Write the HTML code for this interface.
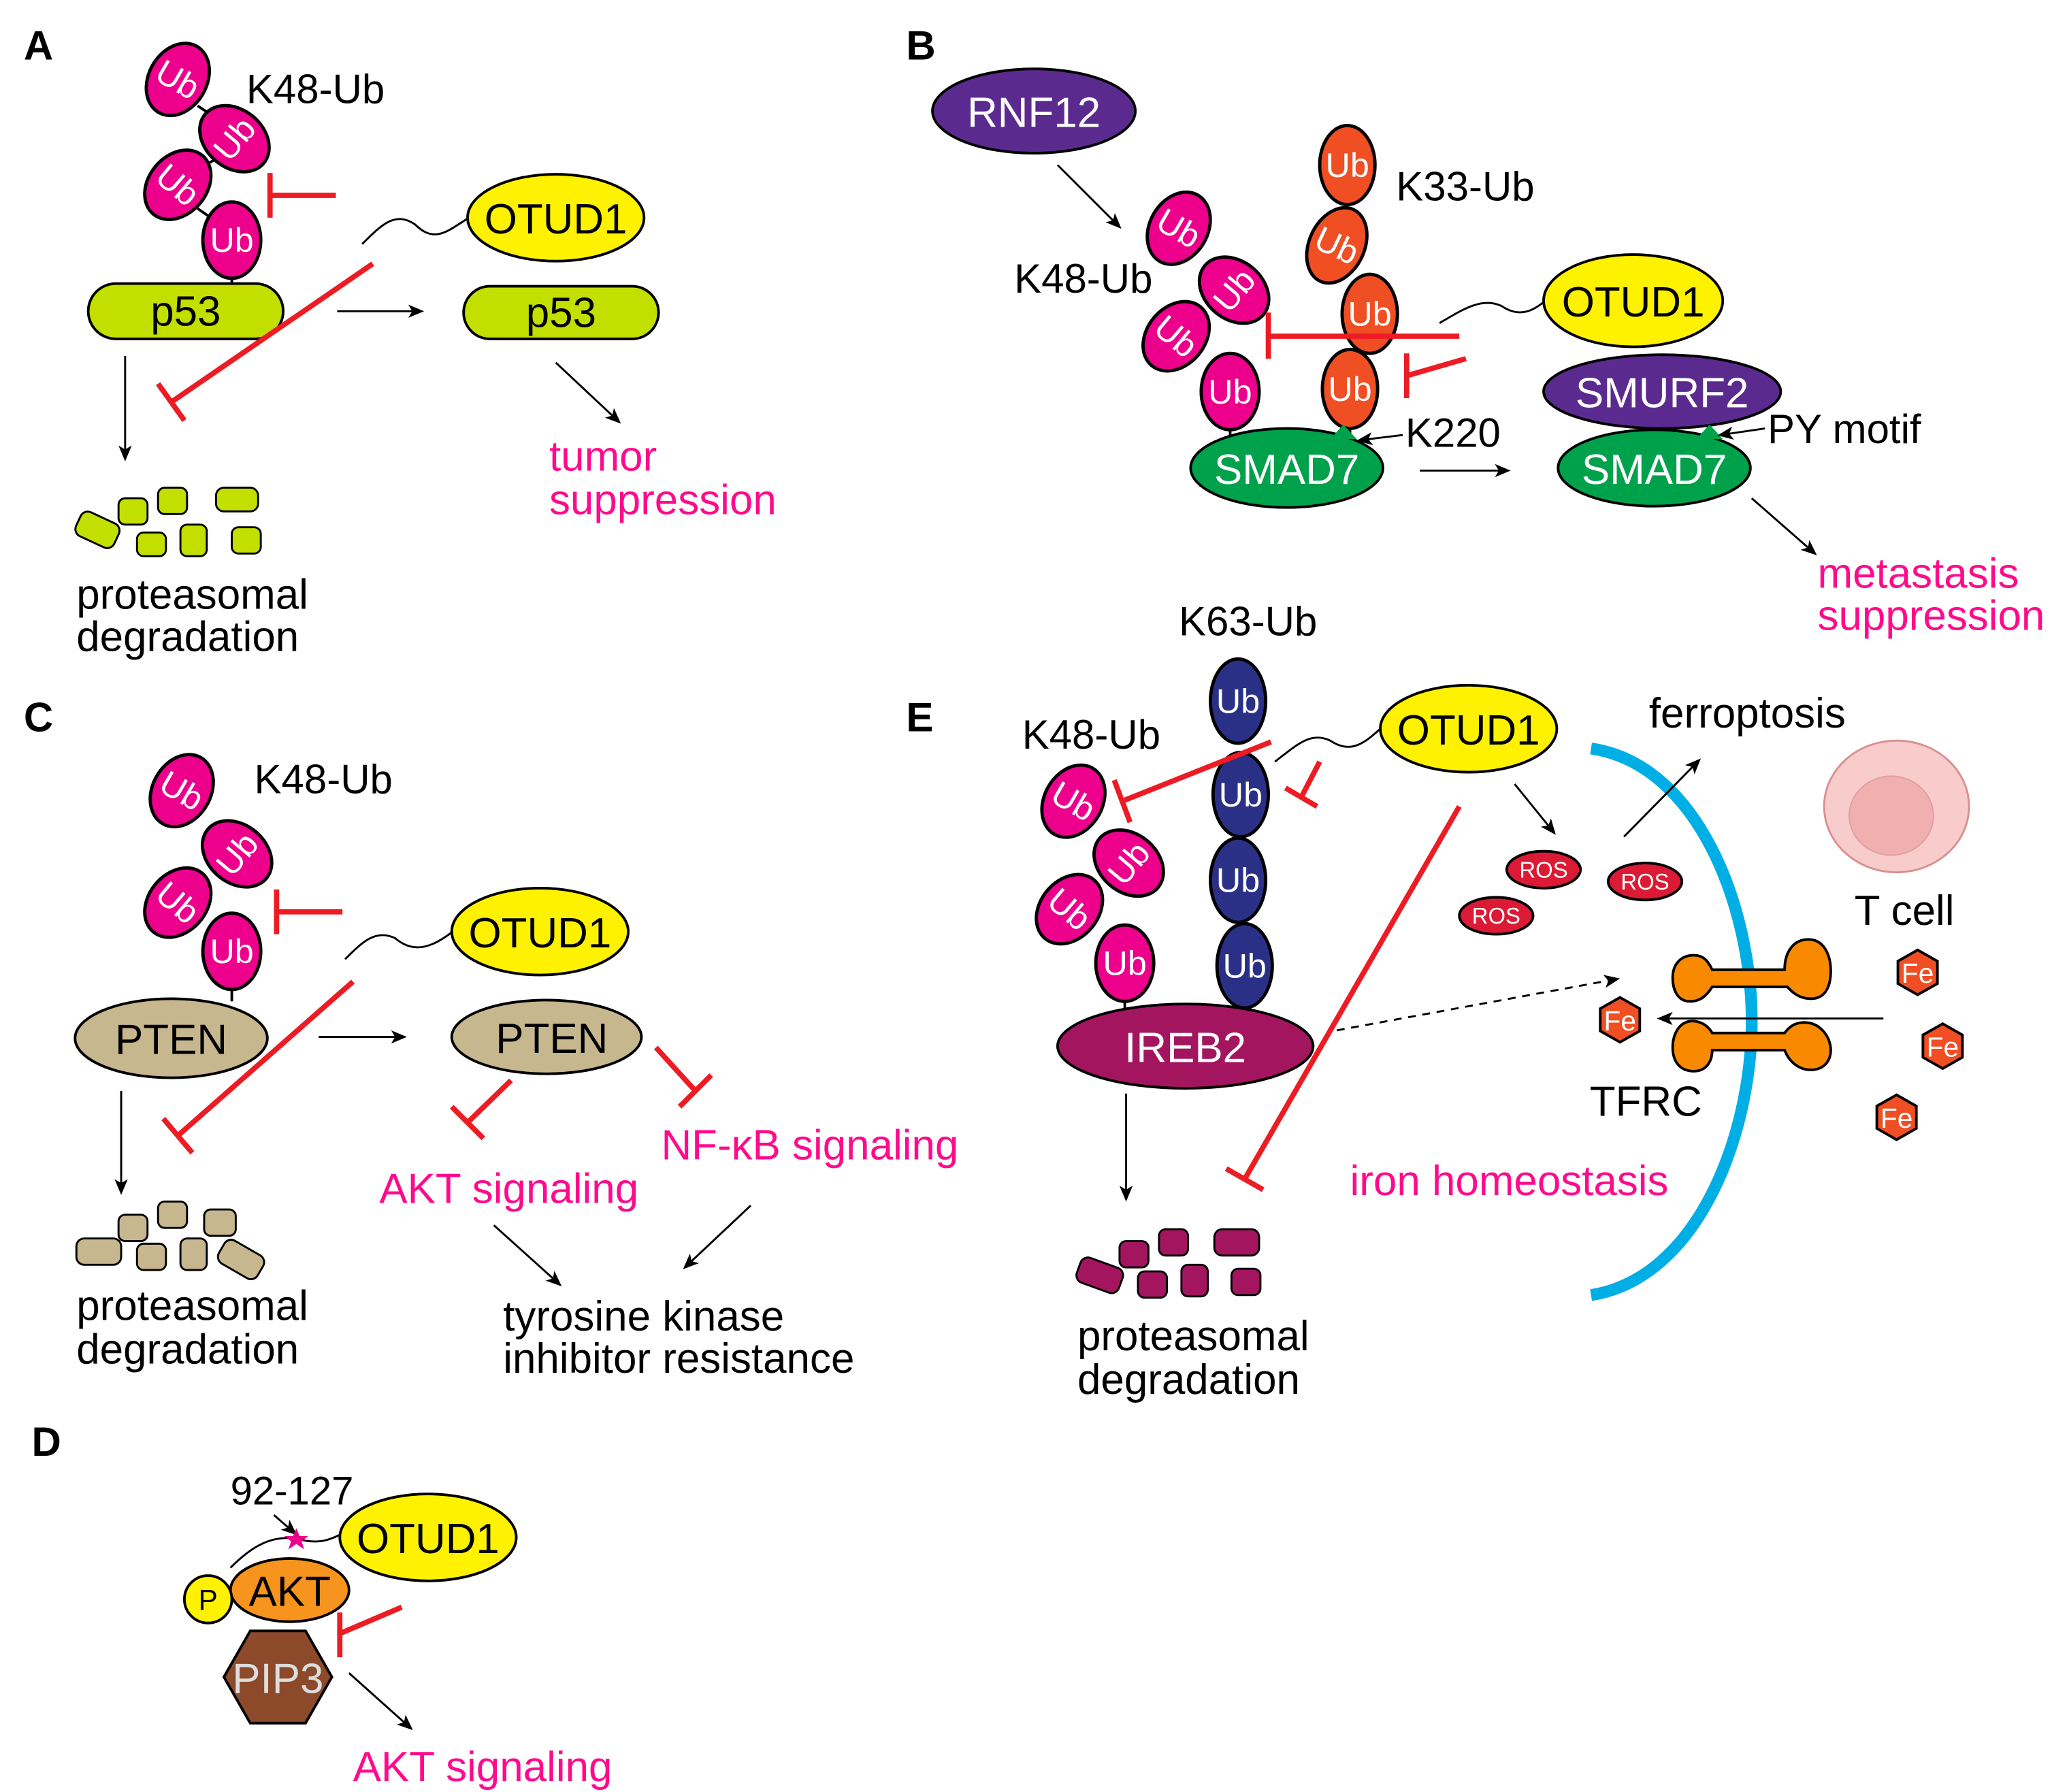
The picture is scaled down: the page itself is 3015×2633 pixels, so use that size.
<!DOCTYPE html>
<html><head><meta charset="utf-8"><style>html,body{margin:0;padding:0;background:#fff}svg{display:block}</style></head><body>
<svg width="3015" height="2633" viewBox="0 0 1558 1360" xmlns="http://www.w3.org/2000/svg" font-family="Liberation Sans, Arial, sans-serif">
<defs>
<marker id="ar" markerWidth="12" markerHeight="10" refX="10" refY="5" orient="auto" markerUnits="userSpaceOnUse"><path d="M0,0 L12,5 L0,10 L3,5 Z" fill="#000"/></marker>
<g id="ubm"><ellipse rx="22" ry="29" fill="#ec008c" stroke="#000" stroke-width="2.5"/><text y="9" text-anchor="middle" font-size="26" fill="#fff">Ub</text></g>
<g id="ubo"><ellipse rx="21" ry="30" fill="#f04e23" stroke="#000" stroke-width="2.5"/><text y="9" text-anchor="middle" font-size="26" fill="#fff">Ub</text></g>
<g id="ubb"><ellipse rx="21" ry="32" fill="#2b3087" stroke="#000" stroke-width="2.5"/><text y="9" text-anchor="middle" font-size="26" fill="#fff">Ub</text></g>
<g id="fe"><polygon points="0,-17 15,-8.5 15,8.5 0,17 -15,8.5 -15,-8.5" fill="#f04e23" stroke="#000" stroke-width="2"/><text y="8" text-anchor="middle" font-size="21" fill="#fff">Fe</text></g>
<g id="ros"><ellipse rx="28" ry="14" fill="#db1a35" stroke="#000" stroke-width="2"/><text y="6" text-anchor="middle" font-size="17" fill="#fff">ROS</text></g>
</defs>
<g font-size="32" fill="#000">
<!-- Panel A -->
<text x="18" y="45" font-weight="bold" font-size="31">A</text>
<line x1="176" y1="200" x2="176" y2="216" stroke="#000" stroke-width="2"/>
<line x1="150" y1="80" x2="165" y2="90" stroke="#000" stroke-width="2"/>
<line x1="165" y1="120" x2="150" y2="128" stroke="#000" stroke-width="2"/>
<line x1="150" y1="158" x2="160" y2="165" stroke="#000" stroke-width="2"/>
<use href="#ubm" transform="translate(135,60) rotate(30)"/>
<use href="#ubm" transform="translate(178,105) rotate(-50)"/>
<use href="#ubm" transform="translate(135,140) rotate(40)"/>
<use href="#ubm" transform="translate(176,182) rotate(0)"/>
<text x="187" y="78" font-size="31">K48-Ub</text>
<rect x="67" y="215" width="148" height="42" rx="21" fill="#c3df00" stroke="#000" stroke-width="2"/>
<text x="141" y="247" text-anchor="middle">p53</text>
<g stroke="#ed1c24" stroke-width="4"><line x1="205" y1="148" x2="255" y2="148"/><line x1="205" y1="131" x2="205" y2="165"/>
<line x1="283" y1="200" x2="130" y2="305"/><line x1="120" y1="291" x2="140" y2="319"/></g>
<path d="M275,185 C290,170 300,160 315,170 C330,185 340,175 356,165" fill="none" stroke="#000" stroke-width="1.5"/>
<ellipse cx="422" cy="165" rx="67" ry="33" fill="#fff200" stroke="#000" stroke-width="2"/>
<text x="422" y="177" text-anchor="middle">OTUD1</text>
<line x1="256" y1="236" x2="320" y2="236" stroke="#000" stroke-width="1.5" marker-end="url(#ar)"/>
<rect x="352" y="217" width="148" height="40" rx="20" fill="#c3df00" stroke="#000" stroke-width="2"/>
<text x="426" y="248" text-anchor="middle">p53</text>
<line x1="422" y1="275" x2="470" y2="320" stroke="#000" stroke-width="1.5" marker-end="url(#ar)"/>
<text x="417" y="357" fill="#ff0a8c">tumor</text><text x="417" y="390" fill="#ff0a8c">suppression</text>
<line x1="95" y1="270" x2="95" y2="348" stroke="#000" stroke-width="1.5" marker-end="url(#ar)"/>
<g fill="#c3df00" stroke="#000" stroke-width="1.5">
<rect x="58" y="392" width="32" height="20" rx="6" transform="rotate(25 74 402)"/>
<rect x="90" y="378" width="22" height="20" rx="5"/><rect x="120" y="370" width="22" height="20" rx="5"/>
<rect x="164" y="370" width="32" height="18" rx="6"/><rect x="104" y="404" width="22" height="18" rx="5"/>
<rect x="137" y="398" width="20" height="24" rx="5"/><rect x="176" y="400" width="22" height="20" rx="5"/></g>
<text x="58" y="462">proteasomal</text><text x="58" y="494">degradation</text>

<!-- Panel B -->
<text x="688" y="45" font-weight="bold" font-size="31">B</text>
<ellipse cx="785" cy="84" rx="77" ry="32" fill="#5b2a8f" stroke="#000" stroke-width="2"/>
<text x="785" y="96" text-anchor="middle" fill="#fff">RNF12</text>
<line x1="803" y1="125" x2="850" y2="172" stroke="#000" stroke-width="1.5" marker-end="url(#ar)"/>
<line x1="934" y1="320" x2="934" y2="338" stroke="#000" stroke-width="2"/>
<line x1="1025" y1="320" x2="1025" y2="338" stroke="#000" stroke-width="2"/>
<use href="#ubm" transform="translate(895,173) rotate(30)"/>
<use href="#ubm" transform="translate(937,220) rotate(-50)"/>
<use href="#ubm" transform="translate(893,255) rotate(40)"/>
<use href="#ubm" transform="translate(934,297) rotate(0)"/>
<text x="770" y="222" font-size="31">K48-Ub</text>
<use href="#ubo" transform="translate(1023,125)"/>
<use href="#ubo" transform="translate(1015,186) rotate(25)"/>
<use href="#ubo" transform="translate(1040,238)"/>
<use href="#ubo" transform="translate(1025,295)"/>
<text x="1060" y="152" font-size="31">K33-Ub</text>
<g stroke="#ed1c24" stroke-width="4"><line x1="963" y1="255" x2="1108" y2="255"/><line x1="963" y1="237" x2="963" y2="272"/>
<line x1="1068" y1="285" x2="1113" y2="272"/><line x1="1068" y1="268" x2="1068" y2="302"/></g>
<path d="M1093,245 C1110,235 1125,225 1140,232 C1155,242 1165,235 1176,226" fill="none" stroke="#000" stroke-width="1.5"/>
<ellipse cx="1240" cy="228" rx="68" ry="35" fill="#fff200" stroke="#000" stroke-width="2"/>
<text x="1240" y="240" text-anchor="middle">OTUD1</text>
<ellipse cx="977" cy="355" rx="73" ry="30" fill="#00a14b" stroke="#000" stroke-width="2"/>
<text x="977" y="367" text-anchor="middle" fill="#fff">SMAD7</text>
<polygon points="1010,333 1020,322 1030,333" fill="#00a14b"/>
<line x1="1065" y1="330" x2="1032" y2="334" stroke="#000" stroke-width="1.5" marker-end="url(#ar)"/>
<text x="1067" y="339" font-size="31">K220</text>
<line x1="1078" y1="357" x2="1145" y2="357" stroke="#000" stroke-width="1.5" marker-end="url(#ar)"/>
<ellipse cx="1262" cy="297" rx="90" ry="28" fill="#5b2a8f" stroke="#000" stroke-width="2"/>
<text x="1262" y="309" text-anchor="middle" fill="#fff">SMURF2</text>
<ellipse cx="1256" cy="355" rx="73" ry="29" fill="#00a14b" stroke="#000" stroke-width="2"/>
<text x="1256" y="367" text-anchor="middle" fill="#fff">SMAD7</text>
<polygon points="1288,333 1298,322 1308,333" fill="#00a14b"/>
<line x1="1340" y1="325" x2="1306" y2="330" stroke="#000" stroke-width="1.5" marker-end="url(#ar)"/>
<text x="1342" y="336" font-size="31">PY motif</text>
<line x1="1330" y1="378" x2="1378" y2="420" stroke="#000" stroke-width="1.5" marker-end="url(#ar)"/>
<text x="1380" y="446" fill="#ff0a8c">metastasis</text><text x="1380" y="478" fill="#ff0a8c">suppression</text>

<!-- Panel C -->
<text x="18" y="555" font-weight="bold" font-size="31">C</text>
<line x1="176" y1="742" x2="176" y2="760" stroke="#000" stroke-width="2"/>
<use href="#ubm" transform="translate(138,600) rotate(30)"/>
<use href="#ubm" transform="translate(180,648) rotate(-50)"/>
<use href="#ubm" transform="translate(135,685) rotate(40)"/>
<use href="#ubm" transform="translate(176,722)"/>
<text x="193" y="602" font-size="31">K48-Ub</text>
<ellipse cx="130" cy="788" rx="73" ry="30" fill="#c7b78f" stroke="#000" stroke-width="2"/>
<text x="130" y="800" text-anchor="middle">PTEN</text>
<g stroke="#ed1c24" stroke-width="4"><line x1="210" y1="692" x2="260" y2="692"/><line x1="210" y1="675" x2="210" y2="709"/>
<line x1="268" y1="745" x2="135" y2="862"/><line x1="124" y1="849" x2="146" y2="875"/>
<line x1="388" y1="820" x2="355" y2="852"/><line x1="343" y1="840" x2="367" y2="864"/>
<line x1="498" y1="795" x2="528" y2="828"/><line x1="516" y1="840" x2="540" y2="816"/></g>
<path d="M262,728 C275,715 285,705 300,712 C315,725 330,718 345,706" fill="none" stroke="#000" stroke-width="1.5"/>
<ellipse cx="410" cy="707" rx="67" ry="33" fill="#fff200" stroke="#000" stroke-width="2"/>
<text x="410" y="719" text-anchor="middle">OTUD1</text>
<line x1="242" y1="787" x2="307" y2="787" stroke="#000" stroke-width="1.5" marker-end="url(#ar)"/>
<ellipse cx="415" cy="787" rx="72" ry="28" fill="#c7b78f" stroke="#000" stroke-width="2"/>
<text x="419" y="799" text-anchor="middle">PTEN</text>
<text x="288" y="913" fill="#ff0a8c">AKT signaling</text>
<text x="502" y="880" fill="#ff0a8c">NF-κB signaling</text>
<line x1="375" y1="930" x2="425" y2="975" stroke="#000" stroke-width="1.5" marker-end="url(#ar)"/>
<line x1="570" y1="915" x2="520" y2="962" stroke="#000" stroke-width="1.5" marker-end="url(#ar)"/>
<text x="382" y="1010">tyrosine kinase</text><text x="382" y="1042">inhibitor resistance</text>
<line x1="92" y1="828" x2="92" y2="905" stroke="#000" stroke-width="1.5" marker-end="url(#ar)"/>
<g fill="#c7b78f" stroke="#000" stroke-width="1.5">
<rect x="58" y="940" width="34" height="20" rx="6"/><rect x="90" y="922" width="22" height="20" rx="5"/>
<rect x="120" y="912" width="22" height="20" rx="5"/><rect x="155" y="918" width="24" height="20" rx="5"/>
<rect x="104" y="944" width="22" height="20" rx="5"/><rect x="137" y="940" width="20" height="24" rx="5"/>
<rect x="166" y="946" width="34" height="20" rx="6" transform="rotate(30 183 956)"/></g>
<text x="58" y="1002">proteasomal</text><text x="58" y="1035">degradation</text>

<!-- Panel D -->
<text x="24" y="1105" font-weight="bold" font-size="31">D</text>
<text x="175" y="1142" font-size="30">92-127</text>
<line x1="208" y1="1150" x2="224" y2="1164" stroke="#000" stroke-width="1.5" marker-end="url(#ar)"/>
<path d="M175,1190 C190,1175 205,1165 225,1168 C240,1172 248,1170 258,1165" fill="none" stroke="#000" stroke-width="1.5"/>
<polygon points="225,1160 227.5,1166 234,1166 229,1170 231,1176 225,1172 219,1176 221,1170 216,1166 222.5,1166" fill="#ec008c"/>
<ellipse cx="325" cy="1167" rx="67" ry="33" fill="#fff200" stroke="#000" stroke-width="2"/>
<text x="325" y="1179" text-anchor="middle">OTUD1</text>
<polygon points="190,1238 232,1238 252,1273 232,1308 190,1308 170,1273" fill="#8c4a2a" stroke="#000" stroke-width="2"/>
<text x="211" y="1285" text-anchor="middle" fill="#ddd">PIP3</text>
<ellipse cx="220" cy="1207" rx="45" ry="24" fill="#f7941d" stroke="#000" stroke-width="2"/>
<text x="220" y="1219" text-anchor="middle">AKT</text>
<circle cx="158" cy="1214" r="18" fill="#fff200" stroke="#000" stroke-width="2"/>
<text x="158" y="1222" text-anchor="middle" font-size="22">P</text>
<g stroke="#ed1c24" stroke-width="4"><line x1="305" y1="1220" x2="258" y2="1240"/><line x1="258" y1="1224" x2="258" y2="1258"/></g>
<line x1="265" y1="1270" x2="312" y2="1312" stroke="#000" stroke-width="1.5" marker-end="url(#ar)"/>
<text x="268" y="1352" fill="#ff0a8c">AKT signaling</text>

<!-- Panel E -->
<text x="688" y="555" font-weight="bold" font-size="31">E</text>
<text x="895" y="482" font-size="31">K63-Ub</text>
<line x1="854" y1="755" x2="854" y2="770" stroke="#000" stroke-width="2"/>
<line x1="945" y1="760" x2="945" y2="772" stroke="#000" stroke-width="2"/>
<use href="#ubb" transform="translate(940,532)"/>
<use href="#ubb" transform="translate(942,603)"/>
<use href="#ubb" transform="translate(940,668)"/>
<use href="#ubb" transform="translate(945,733)"/>
<use href="#ubm" transform="translate(815,608) rotate(30)"/>
<use href="#ubm" transform="translate(857,655) rotate(-50)"/>
<use href="#ubm" transform="translate(812,690) rotate(40)"/>
<use href="#ubm" transform="translate(854,731)"/>
<text x="776" y="568" font-size="31">K48-Ub</text>
<ellipse cx="900" cy="794" rx="97" ry="32" fill="#a3165f" stroke="#000" stroke-width="2"/>
<text x="900" y="806" text-anchor="middle" fill="#fff">IREB2</text>
<g stroke="#ed1c24" stroke-width="4"><line x1="965" y1="563" x2="852" y2="608"/><line x1="846" y1="592" x2="858" y2="624"/>
<line x1="1002" y1="578" x2="988" y2="605"/><line x1="976" y1="598" x2="1000" y2="612"/>
<line x1="1108" y1="612" x2="945" y2="895"/><line x1="931" y1="887" x2="959" y2="903"/></g>
<path d="M968,578 C985,565 995,555 1010,562 C1025,572 1035,565 1048,553" fill="none" stroke="#000" stroke-width="1.5"/>
<ellipse cx="1115" cy="553" rx="67" ry="33" fill="#fff200" stroke="#000" stroke-width="2"/>
<text x="1115" y="565" text-anchor="middle">OTUD1</text>
<line x1="1150" y1="595" x2="1180" y2="632" stroke="#000" stroke-width="1.5" marker-end="url(#ar)"/>
<use href="#ros" transform="translate(1172,660)"/>
<use href="#ros" transform="translate(1136,695)"/>
<use href="#ros" transform="translate(1249,669)"/>
<path d="M1208,568 C1290,580 1330,690 1330,775 C1330,860 1290,970 1208,983" fill="none" stroke="#00aee6" stroke-width="9"/>
<line x1="1233" y1="635" x2="1290" y2="577" stroke="#000" stroke-width="1.5" marker-end="url(#ar)"/>
<text x="1252" y="552">ferroptosis</text>
<ellipse cx="1440" cy="612" rx="55" ry="50" fill="#f9cccc" stroke="#d99090" stroke-width="1.5"/>
<ellipse cx="1436" cy="619" rx="32" ry="30" fill="#f0b0b0" stroke="#e0a0a0" stroke-width="1"/>
<text x="1408" y="702">T cell</text>
<g fill="#f98a00" stroke="#000" stroke-width="2">
<path d="M1300,736 L1355,736 C1355,722 1362,713 1373,713 C1385,713 1390,725 1390,737 C1390,750 1385,758 1375,758 C1365,758 1360,752 1357,749 L1300,749 C1295,757 1290,760 1283,760 C1273,760 1270,750 1270,742 C1270,732 1276,725 1286,725 C1295,725 1298,732 1300,736 Z"/>
<path d="M1300,797 L1355,797 C1358,805 1365,812 1375,812 C1385,812 1390,805 1390,797 C1390,787 1382,776 1370,776 C1362,776 1358,780 1355,784 L1300,784 C1297,779 1292,775 1285,775 C1275,775 1270,785 1270,795 C1270,805 1275,813 1286,813 C1296,813 1300,805 1300,797 Z"/></g>
<line x1="1430" y1="773" x2="1260" y2="773" stroke="#000" stroke-width="1.5" marker-end="url(#ar)"/>
<line x1="1015" y1="782" x2="1228" y2="743" stroke="#000" stroke-width="1.5" stroke-dasharray="6,5" marker-end="url(#ar)"/>
<use href="#fe" transform="translate(1230,774)"/>
<use href="#fe" transform="translate(1456,738)"/>
<use href="#fe" transform="translate(1475,794)"/>
<use href="#fe" transform="translate(1440,848)"/>
<text x="1207" y="847">TFRC</text>
<text x="1025" y="907" fill="#ff0a8c">iron homeostasis</text>
<line x1="855" y1="830" x2="855" y2="910" stroke="#000" stroke-width="1.5" marker-end="url(#ar)"/>
<g fill="#a3165f" stroke="#000" stroke-width="1.5">
<rect x="818" y="958" width="34" height="20" rx="6" transform="rotate(20 835 968)"/><rect x="850" y="942" width="22" height="20" rx="5"/>
<rect x="880" y="933" width="22" height="20" rx="5"/><rect x="922" y="933" width="34" height="20" rx="6"/>
<rect x="864" y="965" width="22" height="20" rx="5"/><rect x="897" y="960" width="20" height="24" rx="5"/>
<rect x="935" y="963" width="22" height="20" rx="5"/></g>
<text x="818" y="1025">proteasomal</text><text x="818" y="1058">degradation</text>
</g>
</svg>
</body></html>
